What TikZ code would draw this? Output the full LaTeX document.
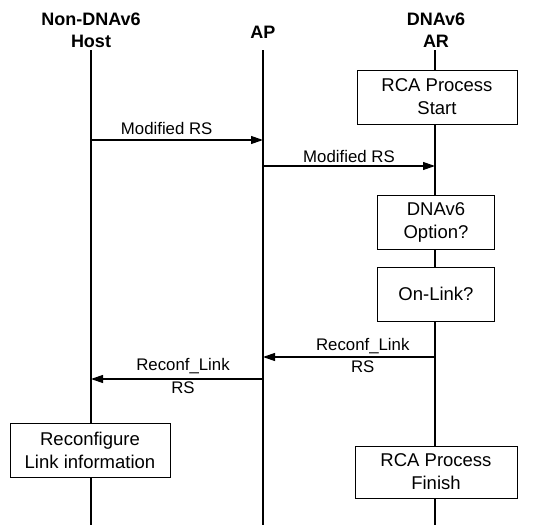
\documentclass[tikz,border=0pt]{standalone}
\usepackage{fontspec}
\setmainfont{Liberation Sans}
\usetikzlibrary{arrows.meta}
\begin{document}
\begin{tikzpicture}[x=1pt,y=-1pt,>={Triangle[length=12pt,width=8pt]},
		actor/.style={font=\fontsize{18}{22}\selectfont\bfseries,align=center,inner sep=0pt},
		stepbox/.style={draw,fill=white,line width=0.8pt,minimum height=54pt,align=center,inner sep=2pt,font=\fontsize{18.5}{23}\selectfont},
		msg/.style={font=\fontsize{16.8}{19}\selectfont,inner sep=2pt},
		life/.style={line width=1.4pt}]
	\useasboundingbox (0,0) rectangle (539,525);
	% headers
	\node[actor] (host) at (91,30) {Non-DNAv6\\Host};
	\node[actor] (ap) at (263,32) {AP};
	\node[actor] (ar) at (436,30) {DNAv6\\AR};
	% lifelines
	\coordinate (hosttop) at (91,50);
	\coordinate (hostend) at (91,525);
	\coordinate (aptop) at (263,50);
	\coordinate (apend) at (263,525);
	\coordinate (artop) at (435,50);
	\coordinate (arend) at (435,525);
	\draw[life] (hosttop) -- (hostend);
	\draw[life] (aptop) -- (apend);
	\draw[life] (artop) -- (arend);

	% boxes on the lifelines
	\node[stepbox,minimum width=160pt] (start) at (437,97) {RCA Process\\Start};
	\node[stepbox,minimum width=117pt] (option) at (436,222) {DNAv6\\Option?};
	\node[stepbox,minimum width=117pt] (onlink) at (436,294) {On-Link?};
	\node[stepbox,minimum width=160pt] (reconf) at (90,450) {Reconfigure\\Link information};
	\node[stepbox,minimum width=162pt,minimum height=52pt] (finish) at (436,472) {RCA Process\\Finish};

	% messages
	\coordinate (h1) at (91,140);
	\coordinate (a1) at (263,140);
	\coordinate (a2) at (263,166);
	\coordinate (r2) at (435,166);
	\coordinate (r3) at (435,357);
	\coordinate (a3) at (263,357);
	\coordinate (a4) at (263,379);
	\coordinate (h4) at (91,379);
	\draw[->,line width=1.2pt] (h1) -- (a1) node[msg,above=3pt,pos=0.44] {Modified RS};
	\draw[->,line width=1.2pt] (a2) -- (r2) node[msg,above=1pt,midway] {Modified RS};
	\draw[->,line width=1.2pt] (r3) -- (a3) node[msg,above=1pt,pos=0.42] {Reconf\_Link}
		node[msg,below=1pt,pos=0.42] {RS};
	\draw[->,line width=1.2pt] (a4) -- (h4) node[msg,above=3pt,pos=0.465] {Reconf\_Link}
		node[msg,below=0pt,pos=0.465] {RS};
\end{tikzpicture}
\end{document}
